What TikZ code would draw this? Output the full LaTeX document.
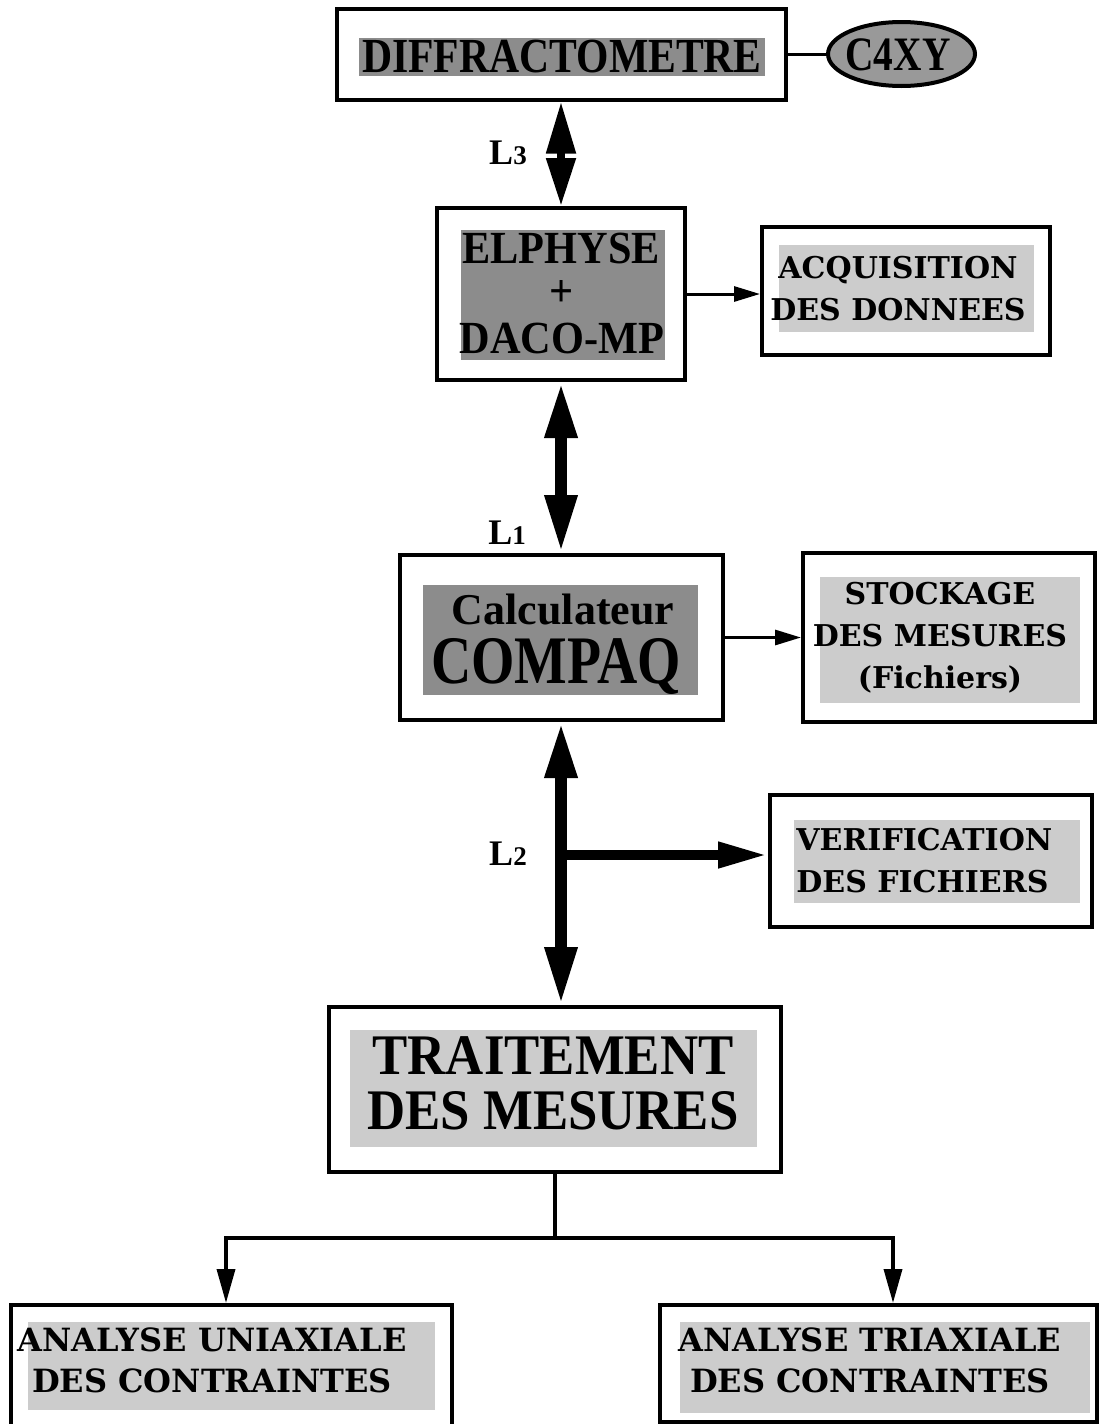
\documentclass[tikz,border=0pt]{standalone}
\usepackage{fontspec}
\setmainfont{Liberation Serif}
\newfontfamily\condA[FakeStretch=0.92]{Liberation Serif}
\newfontfamily\condC[FakeStretch=0.85]{Liberation Serif}
\newfontfamily\condB[FakeStretch=0.82]{Liberation Serif}
\newfontfamily\slab{DejaVu Serif}
\usetikzlibrary{arrows.meta,shapes.geometric}
\newcommand\ldig[1]{{\fontsize{13.5}{13.5}\selectfont #1}}
\tikzset{
 frame/.style 2 args={draw, line width=2pt, minimum width={#1*0.5pt}, minimum height={#2*0.5pt}, inner sep=0pt},
 dshade/.style 2 args={fill=black!45, minimum width={#1*0.5pt}, minimum height={#2*0.5pt}, inner sep=0pt},
 lshade/.style 2 args={fill=black!20, minimum width={#1*0.5pt}, minimum height={#2*0.5pt}, inner sep=0pt},
 bigtxt/.style={inner sep=0pt, align=center, font=\condC\bfseries\fontsize{24.5}{22}\selectfont},
 midtxt/.style={inner sep=0pt, font=\condA\bfseries\fontsize{23}{23}\selectfont},
 slabtxt/.style={inner sep=0pt, align=center, font=\slab\bfseries\fontsize{15}{21}\selectfont},
 slabbig/.style={inner sep=0pt, align=center, font=\slab\bfseries\fontsize{16}{20.5}\selectfont},
 ltxt/.style={inner sep=0pt, font=\bfseries\fontsize{18}{18}\selectfont},
 conn/.style={line width=1.5pt},
 thinarrow/.style={line width=1.5pt, -{Triangle[length=13pt,width=7.5pt]}},
 lowarrow/.style={line width=1.8pt, -{Triangle[length=17pt,width=9pt]}},
 busA/.style={line width=4pt, {Triangle[length=26pt,width=14pt]}-{Triangle[length=24pt,width=14pt]}},
 busB/.style={line width=6pt, {Triangle[length=28pt,width=15pt]}-{Triangle[length=29pt,width=15pt]}},
 tapB/.style={line width=5pt, -{Triangle[length=25pt,width=12pt]}}
}
\begin{document}
\begin{tikzpicture}[x=0.5pt,y=-0.5pt]
\useasboundingbox (0,0) rectangle (1099,1424);
\clip (0,0) rectangle (1099,1424);
\fill[white] (0,0) rectangle (1099,1424);

% DIFFRACTOMETRE + C4XY
\node[frame={449}{91}] (diff) at (561,54) {};
\node[dshade={406}{38}] (diffS) at (562,57) {};
\node[bigtxt] (diffT) at (562,57) {DIFFRACTOMETRE};
\node[draw, line width=2pt, ellipse, fill=black!40, minimum width=73.5pt, minimum height=32pt, inner sep=0pt] (c4xy) at (901.5,54) {};
\node[inner sep=0pt, font=\condB\bfseries\fontsize{24}{24}\selectfont] (c4xyT) at (898,54.5) {C4XY};
\draw[conn] (diff.east) -- (c4xy.west);

% ELPHYSE + DACO-MP
\node[frame={248}{172}] (elph) at (561,294) {};
\node[dshade={204}{130}] (elphS) at (563,295) {};
\node[midtxt] (elphT1) at (561,248) {ELPHYSE};
\node[midtxt] (elphT2) at (562,294) {+};
\node[midtxt] (elphT3) at (562,338) {DACO-MP};

% ACQUISITION
\node[frame={288}{128}] (acq) at (906,291) {};
\node[lshade={255}{87}] (acqS) at (906.5,288.5) {};
\node[slabtxt] (acqT) at (898,289) {ACQUISITION\\DES DONNEES};
\draw[thinarrow] (elph.east) -- (elph.east -| acq.west);

% L3 link
\draw[busA] (diff.south) -- (elph.north);
\node[ltxt] (l3) at (508,153) {L\ldig{3}};

% COMPAQ
\node[frame={323}{165}] (cpq) at (561,637.5) {};
\node[dshade={275}{110}] (cpqS) at (560.5,640) {};
\node[inner sep=0pt, font=\bfseries\fontsize{22}{22}\selectfont] (calcT) at (563,609) {Calculateur};
\node[inner sep=0pt, font=\condB\bfseries\fontsize{34}{34}\selectfont] (cpqT) at (556,666) {COMPAQ};

% L1 link
\draw[busB] (elph.south) -- (cpq.north);
\node[ltxt] (l1) at (507,533) {L\ldig{1}};

% STOCKAGE
\node[frame={292}{169}] (stock) at (949,637.5) {};
\node[lshade={260}{126}] (stockS) at (950,640) {};
\node[slabtxt] (stockT) at (940,638) {STOCKAGE\\DES MESURES\\(Fichiers)};
\draw[thinarrow] (cpq.east) -- (stock.west);

% TRAITEMENT
\node[frame={452}{165}] (trait) at (555,1089.5) {};
\node[lshade={407}{117}] (traitS) at (553.5,1088.5) {};
\node[inner sep=0pt, align=center, font=\condA\bfseries\fontsize{28.7}{27.5}\selectfont] (traitT) at (553,1083.5) {TRAITEMENT\\DES MESURES};

% L2 link and VERIFICATION
\node[frame={322}{132}] (verif) at (931,861) {};
\node[lshade={286}{83}] (verifS) at (937,861.5) {};
\node[slabtxt, align=left, anchor=west] (verifT) at (796,861) {VERIFICATION\\DES FICHIERS};
\draw[busB] (cpq.south) -- (cpq.south |- trait.north);
\coordinate (br) at (561,855);
\draw[tapB] (br) -- (br -| verif.west);
\node[ltxt] (l2) at (508,854) {L\ldig{2}};

% analyses
\node[frame={441}{135}] (uni) at (231.5,1372.5) {};
\node[lshade={407}{88}] (uniS) at (231.5,1366) {};
\node[slabbig] (uniT) at (212,1360.5) {ANALYSE UNIAXIALE\\DES CONTRAINTES};
\node[frame={437}{117}] (tri) at (878.5,1363.5) {};
\node[lshade={410}{91}] (triS) at (885,1367.5) {};
\node[slabbig] (triT) at (870,1360.5) {ANALYSE TRIAXIALE\\DES CONTRAINTES};

\coordinate (hub) at (555,1238);
\coordinate (hl) at (226,1238);
\coordinate (hr) at (893,1238);
\draw[line width=1.8pt] (trait.south) -- (hub);
\draw[lowarrow] (hub) -- (hl) -- (hl |- uni.north);
\draw[lowarrow] (hub) -- (hr) -- (hr |- tri.north);
\end{tikzpicture}
\end{document}
